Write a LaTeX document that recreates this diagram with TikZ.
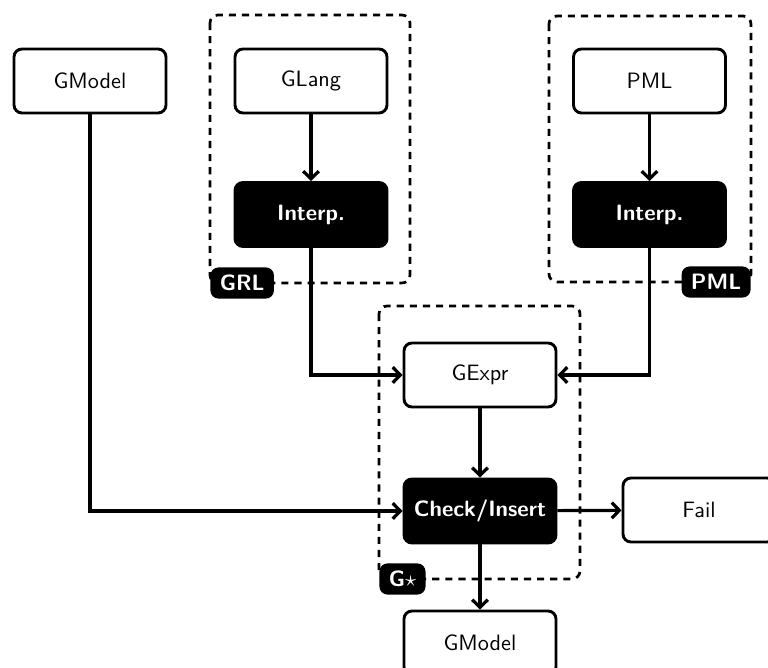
\documentclass[tikz,border=0pt]{standalone}
\usetikzlibrary{arrows.meta}
\begin{document}
\begin{tikzpicture}[x=0.45pt,y=-0.45pt,
  font=\sffamily,
  plainbox/.style={draw=black, line width=1.3pt, rounded corners=3.6pt, fill=white,
    minimum width=68.4pt, minimum height=28.8pt, inner sep=0pt},
  darkbox/.style={plainbox, fill=black, text=white, font=\sffamily\bfseries},
  group/.style={draw=black, line width=1.2pt, dash pattern=on 3.2pt off 2.7pt, rounded corners=3.6pt},
  tag/.style={fill=black, text=white, font=\sffamily\bfseries, rounded corners=3.6pt,
    inner xsep=4.2pt, inner ysep=3.5pt, text height=7pt, text depth=0pt, minimum height=13.5pt},
  flow/.style={line width=1.45pt, -{Straight Barb[length=3.4pt,width=7pt]}}
]
\useasboundingbox (0,0) rectangle (768,668);

% grouping frames
\draw[group] (210,15) rectangle (410,283);
\draw[group] (549,16) rectangle (751,282);
\draw[group] (379,306) rectangle (580,579);
\coordinate (grlcorner) at (210,283);
\coordinate (pmlcorner) at (751,282);
\coordinate (gstarcorner) at (379,579);

% boxes
\node[plainbox] (gmtop) at (90,81) {GModel};
\node[plainbox] (glang) at (311,81) {GLang};
\node[plainbox] (pml) at (649.5,81) {PML};
\node[darkbox] (interpL) at (311,214.5) {Interp.};
\node[darkbox] (interpR) at (649.5,214.5) {Interp.};
\node[plainbox] (gexpr) at (480,375) {GExpr};
\node[darkbox] (check) at (480,511) {Check/Insert};
\node[plainbox] (fail) at (699,510) {Fail};
\node[plainbox] (gmbot) at (480,643) {GModel};

% connectors
\draw[flow] (glang) -- (interpL);
\draw[flow] (pml) -- (interpR);
\draw[flow] (interpL.south) |- (gexpr.west);
\draw[flow] (interpR.south) |- (gexpr.east);
\draw[flow] (gmtop.south) |- (check.west);
\draw[flow] (gexpr) -- (check);
\draw[flow] (check) -- (fail);
\draw[flow] (check) -- (gmbot);

% frame tags
\node[tag, anchor=west] (grltag) at (grlcorner) {GRL};
\node[tag, anchor=east] (pmltag) at (pmlcorner) {PML};
\node[tag, anchor=west] (gstartag) at (gstarcorner) {G$\star$};
\end{tikzpicture}
\end{document}
